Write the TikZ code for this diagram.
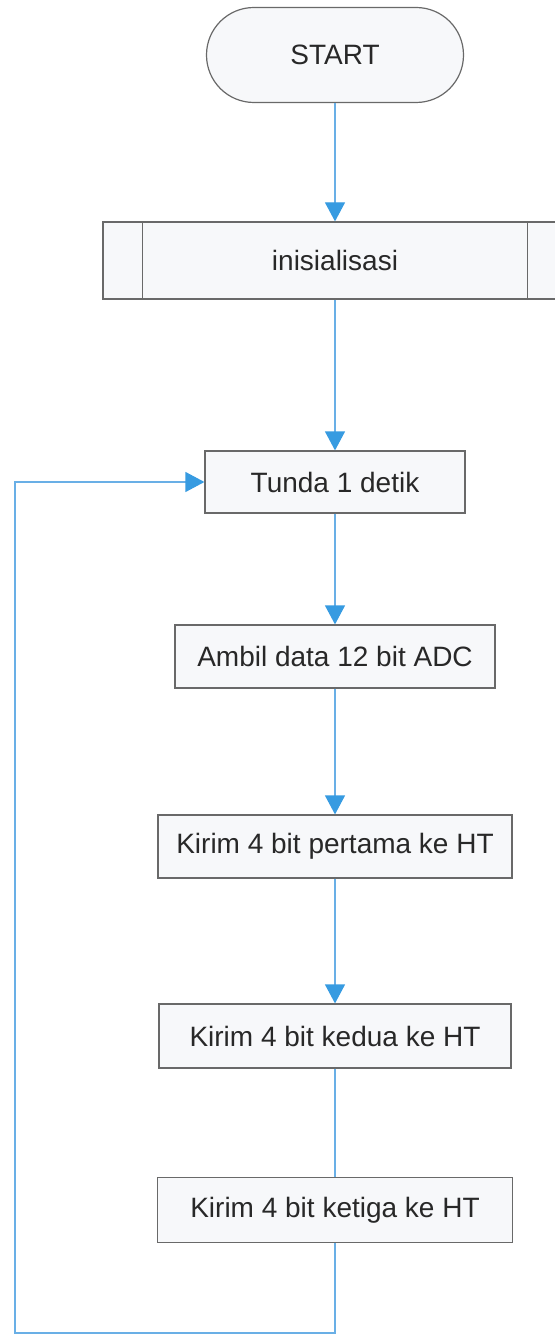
\documentclass[tikz,border=0pt]{standalone}
\usepackage{fontspec}
\setmainfont{Liberation Sans}
\usetikzlibrary{arrows.meta}
\definecolor{flowblue}{RGB}{105,175,230}
\definecolor{tipblue}{RGB}{55,155,225}
\definecolor{boxgray}{RGB}{105,105,105}
\definecolor{boxfill}{RGB}{247,248,250}
\definecolor{txtgray}{RGB}{40,40,40}
\begin{document}
\begin{tikzpicture}[x=0.5pt,y=-0.5pt,
    box/.style={draw=boxgray,line width=0.6pt,fill=boxfill,text=txtgray,
      font=\fontsize{14}{17}\selectfont,minimum height=31.5pt},
    flow/.style={draw=flowblue,line width=0.6pt},
    flowarrow/.style={flow,-{Triangle[length=9.5pt,width=10pt,color=tipblue]}}]
      \useasboundingbox (0,0) rectangle (554,1336);
      \node[box,rounded corners=23.7pt,minimum width=128.5pt,minimum height=47.5pt] (start) at (335,55) {START};
      \node[box,minimum width=232pt,minimum height=38.5pt] (init) at (335,260.5) {inisialisasi};
      \draw[boxgray,line width=0.6pt] ([xshift=20pt]init.north west) -- ([xshift=20pt]init.south west);
      \draw[boxgray,line width=0.6pt] ([xshift=-20pt]init.north east) -- ([xshift=-20pt]init.south east);
      \node[box,minimum width=130pt,minimum height=31pt] (tunda) at (335,482) {Tunda 1 detik};
      \node[box,minimum width=160pt] (ambil) at (335,656.5) {Ambil data 12 bit ADC};
      \node[box,minimum width=177pt] (kirim1) at (335,846.5) {Kirim 4 bit pertama ke HT};
      \node[box,minimum width=176pt,minimum height=32pt] (kirim2) at (335,1036) {Kirim 4 bit kedua ke HT};
      \node[box,minimum width=177.5pt,minimum height=32.5pt] (kirim3) at (335,1210) {Kirim 4 bit ketiga ke HT};
      \coordinate (loopcorner) at (15,1333);
      % aliran utama
      \draw[flowarrow] (start) -- (init);
      \draw[flowarrow] (init) -- (tunda);
      \draw[flowarrow] (tunda) -- (ambil);
      \draw[flowarrow] (ambil) -- (kirim1);
      \draw[flowarrow] (kirim1) -- (kirim2);
      \draw[flow] (kirim2) -- (kirim3);
      % kembali ke tunda
      \draw[flowarrow] (kirim3.south) |- (loopcorner) |- (tunda.west);
    \end{tikzpicture}
\end{document}
